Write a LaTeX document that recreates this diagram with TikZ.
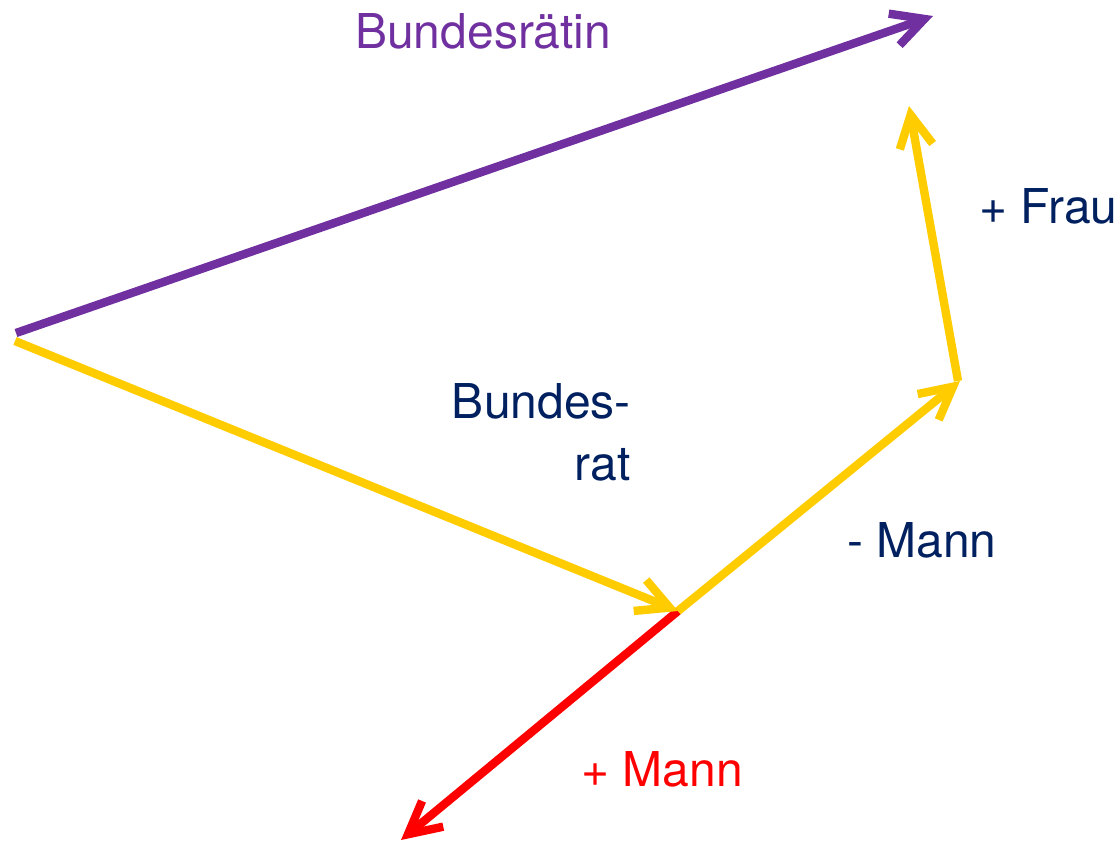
\documentclass[tikz,border=0pt]{standalone}
\usepackage{fontspec}
\setmainfont{TeX Gyre Heros}
\usetikzlibrary{arrows.meta}
\definecolor{vpurple}{HTML}{7030A0}
\definecolor{vyellow}{HTML}{FFCC00}
\definecolor{vred}{HTML}{FF0000}
\definecolor{vblue}{HTML}{002060}
\tikzset{
  vec/.style={line width=6.3pt, -{Straight Barb[length=24pt,width=25pt]}},
  lbl/.style={inner sep=0pt, font=\fontsize{36}{43}\selectfont}
}
\begin{document}
\begin{tikzpicture}[x=0.75pt,y=-0.75pt]
\useasboundingbox (0,0) rectangle (1120,842);
\coordinate (P0) at (16,333);
\coordinate (Y0) at (15,341);
\coordinate (A) at (678,611);
\coordinate (B) at (960,381);
\coordinate (F) at (909,106);
\coordinate (P1) at (933,16);
\coordinate (R) at (401,840);
\draw[vec, vred] (A) -- (R);
\draw[vec, vpurple] (P0) -- (P1);
\draw[vec, vyellow] (Y0) -- (A);
\draw[vec, vyellow] (A) -- (B);
\draw[vec, vyellow] ([xshift=-1.5]B) -- (F);
\node[lbl, text=vpurple, anchor=base west] (t1) at (355,49) {Bundesrätin};
\node[lbl, text=vblue, anchor=base west] (t2) at (979,223) {+ Frau};
\node[lbl, text=vblue, anchor=base east] (t3) at (631,418) {Bundes-};
\node[lbl, text=vblue, anchor=base east] (t4) at (631,480) {rat};
\node[lbl, text=vblue, anchor=base west] (t5) at (847,557) {- Mann};
\node[lbl, text=vred, anchor=base west] (t6) at (581,786) {+ Mann};
\end{tikzpicture}
\end{document}
